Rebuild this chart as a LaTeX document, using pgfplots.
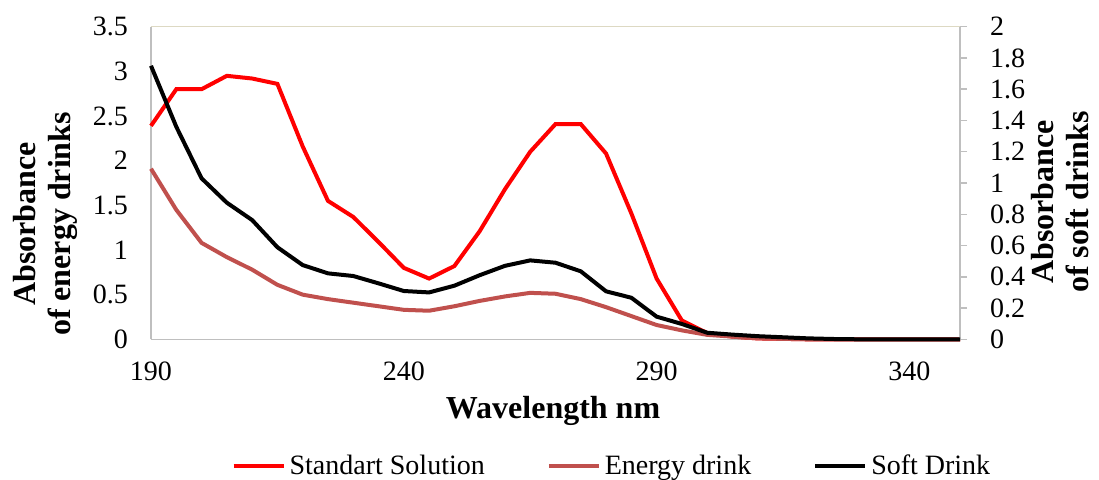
\documentclass[border=0pt]{standalone}
\usepackage{pgfplots}
\pgfplotsset{compat=1.18}
\usepackage{fontspec}
\setmainfont{Liberation Serif}

\definecolor{energy}{HTML}{C0504D}
\definecolor{axgray}{HTML}{BFBFBF}
\definecolor{topline}{HTML}{DDD9C3}

\pgfplotsset{
  absstyle/.style={
    scale only axis,
    width=404.5pt, height=156.3pt,
    xmin=190, xmax=350,
    clip=false,
    /pgf/number format/assume math mode=true,
    tick label style={font=\fontsize{14}{16}\selectfont},
    label style={font=\bfseries\fontsize{16}{17.5}\selectfont},
    axis line style={draw=axgray, line width=0.75pt},
  },
}

\begin{document}
\begin{tikzpicture}
\useasboundingbox (-75.5pt,-69.85pt) rectangle (474pt,169.65pt);

\begin{axis}[
    absstyle,
    ymin=0, ymax=3.5,
    axis x line*=bottom,
    axis y line*=left,
    xtick={190,240,290,340},
    ytick={0,0.5,...,3.5},
    major tick length=0pt,
    xticklabel style={yshift=-8pt},
    yticklabel style={xshift=-8pt},
    xlabel={Wavelength nm},
    xlabel style={at={(axis description cs:0.497,-0.229)}, anchor=center},
    ylabel={Absorbance\\of energy drinks},
    ylabel style={align=center, at={(axis description cs:-0.131,0.369)}, anchor=center},
    legend columns=3,
    legend style={draw=none, fill=none, font=\fontsize{14}{16}\selectfont,
                  at={(axis description cs:0.571,-0.405)}, anchor=center,
                  /tikz/every even column/.append style={column sep=29pt}},
    legend image code/.code={\draw[#1] (0pt,0pt) -- (25pt,0pt);},
]
\addplot[red, line width=2pt] coordinates {
  (190,2.39) (195,2.80) (200,2.80) (205,2.95) (210,2.92) (215,2.86)
  (220,2.16) (225,1.55) (230,1.37) (235,1.09) (240,0.80) (245,0.68)
  (250,0.82) (255,1.21) (260,1.68) (265,2.10) (270,2.41) (275,2.41)
  (280,2.08) (285,1.41) (290,0.68) (295,0.21) (300,0.07) (305,0.03)
  (310,0.01) (315,0.005) (320,0) (325,0) (330,0) (335,0) (340,0)
  (345,0) (350,0)
};
\addlegendentry{Standart Solution}
\addplot[energy, line width=2pt] coordinates {
  (190,1.91) (195,1.45) (200,1.08) (205,0.92) (210,0.78) (215,0.61)
  (220,0.50) (225,0.45) (230,0.41) (235,0.37) (240,0.33) (245,0.32)
  (250,0.37) (255,0.43) (260,0.48) (265,0.52) (270,0.51) (275,0.45)
  (280,0.36) (285,0.26) (290,0.16) (295,0.10) (300,0.05) (305,0.03)
  (310,0.01) (315,0.005) (320,0) (325,0) (330,0) (335,0) (340,0)
  (345,0) (350,0)
};
\addlegendentry{Energy drink}
\addlegendimage{black, line width=2pt}
\addlegendentry{Soft Drink}
\end{axis}

\begin{axis}[
    absstyle,
    ymin=0, ymax=2,
    axis x line=none,
    axis y line*=right,
    ytick={0,0.2,...,2},
    yticklabel style={xshift=8pt, /pgf/number format/fixed},
    tick align=outside,
    major tick length=3.5pt,
    tick style={draw=axgray, line width=0.75pt},
    ylabel={Absorbance\\of soft drinks},
    ylabel style={align=center, at={(axis description cs:1.124,0.439)}, anchor=center},
]
\draw[topline, line width=0.75pt] (rel axis cs:0,1) -- (rel axis cs:1,1);
\addplot[black, line width=2pt] coordinates {
  (190,1.75) (195,1.36) (200,1.03) (205,0.874) (210,0.763) (215,0.589)
  (220,0.475) (225,0.422) (230,0.405) (235,0.358) (240,0.309) (245,0.30)
  (250,0.343) (255,0.41) (260,0.47) (265,0.505) (270,0.49) (275,0.435)
  (280,0.307) (285,0.266) (290,0.145) (295,0.098) (300,0.042) (305,0.03)
  (310,0.02) (315,0.013) (320,0.006) (325,0.002) (330,0) (335,0) (340,0)
  (345,0) (350,0)
};
\end{axis}
\end{tikzpicture}
\end{document}
